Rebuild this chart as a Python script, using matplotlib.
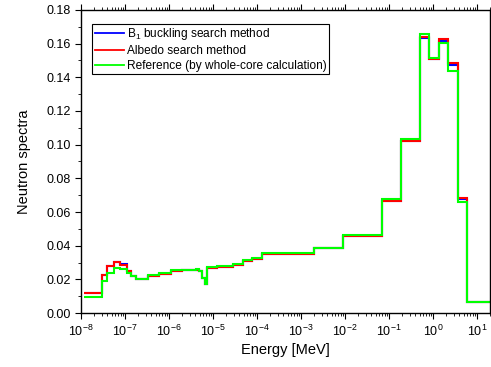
import numpy as np
import matplotlib
matplotlib.use("Agg")
import matplotlib.pyplot as plt
from matplotlib.ticker import LogLocator, MultipleLocator, NullFormatter

# group boundaries [MeV]
edges = [1.2e-8, 3.0e-8, 4.0e-8, 5.5e-8, 7.8e-8, 1.1e-7, 1.4e-7, 1.8e-7,
         3.4e-7, 6.0e-7, 1.1e-6, 2.0e-6, 4.1e-6, 4.7e-6, 5.6e-6, 6.6e-6,
         7.4e-6, 1.25e-5, 2.9e-5, 4.9e-5, 7.9e-5, 1.32e-4, 2.0e-3, 9.1e-3,
         0.069, 0.187, 0.5, 0.82, 1.39, 2.23, 3.68, 6.1, 20.0]

b1_buckling = [0.0117, 0.0226, 0.0282, 0.0306, 0.0290, 0.0250, 0.0222, 0.0205,
               0.0222, 0.0234, 0.0250, 0.0254, 0.0258, 0.0250, 0.0210, 0.0175,
               0.0268, 0.0272, 0.0288, 0.0310, 0.0320, 0.0350, 0.0384, 0.0455,
               0.0665, 0.1020, 0.1635, 0.1510, 0.1615, 0.1470, 0.0675, 0.0068]

albedo = [0.0117, 0.0226, 0.0280, 0.0303, 0.0288, 0.0250, 0.0222, 0.0205,
          0.0222, 0.0234, 0.0250, 0.0254, 0.0258, 0.0250, 0.0210, 0.0175,
          0.0268, 0.0272, 0.0288, 0.0310, 0.0320, 0.0350, 0.0384, 0.0455,
          0.0665, 0.1020, 0.1640, 0.1510, 0.1625, 0.1485, 0.0685, 0.0068]

reference = [0.0097, 0.0190, 0.0240, 0.0265, 0.0260, 0.0235, 0.0220, 0.0205,
             0.0226, 0.0240, 0.0255, 0.0258, 0.0263, 0.0250, 0.0210, 0.0175,
             0.0273, 0.0278, 0.0292, 0.0315, 0.0325, 0.0355, 0.0388, 0.0462,
             0.0678, 0.1035, 0.1658, 0.1515, 0.1605, 0.1440, 0.0660, 0.0068]

plt.rcParams['font.family'] = ['Liberation Sans', 'DejaVu Sans']
plt.rcParams['mathtext.default'] = 'regular'

fig = plt.figure(figsize=(4.91, 3.67), dpi=100)
ax = fig.add_axes([0.165, 0.147, 0.833, 0.826])

ax.stairs(b1_buckling, edges, baseline=None, color='#0000ff', lw=1.5,
          label='B$_1$ buckling search method')
ax.stairs(albedo, edges, baseline=None, color='#ff0000', lw=1.5,
          label='Albedo search method')
ax.stairs(reference, edges, baseline=None, color='#00ff00', lw=1.5,
          label='Reference (by whole-core calculation)')

ax.set_xscale('log')
ax.set_xlim(1e-8, 20)
ax.set_ylim(0, 0.18)
ax.xaxis.set_major_locator(LogLocator(base=10, numticks=20))
ax.xaxis.set_minor_locator(LogLocator(base=10, subs=np.arange(2, 10), numticks=20))
ax.xaxis.set_minor_formatter(NullFormatter())
ax.yaxis.set_major_locator(MultipleLocator(0.02))
ax.yaxis.set_minor_locator(MultipleLocator(0.01))
ax.yaxis.set_major_formatter(plt.FormatStrFormatter('%.2f'))

ax.tick_params(which='both', direction='out', top=True, right=True, labelsize=9)
ax.tick_params(which='major', length=4, width=0.8)
ax.tick_params(which='minor', length=2, width=0.6)
for s in ax.spines.values():
    s.set_linewidth(1.0)

ax.set_xlabel('Energy [MeV]', fontsize=10.5, labelpad=3)
ax.set_ylabel('Neutron spectra', fontsize=10.5, labelpad=11)

leg = ax.legend(loc='upper left', bbox_to_anchor=(0.028, 0.955), borderaxespad=0,
                fontsize=8.6, fancybox=False, edgecolor='black', framealpha=1,
                handlelength=2.4, handletextpad=0.3, labelspacing=0.25,
                borderpad=0.2)
leg.get_frame().set_linewidth(0.8)
for h in leg.get_lines():
    h.set_linewidth(1.3)

fig.savefig('out.png', dpi=100)
